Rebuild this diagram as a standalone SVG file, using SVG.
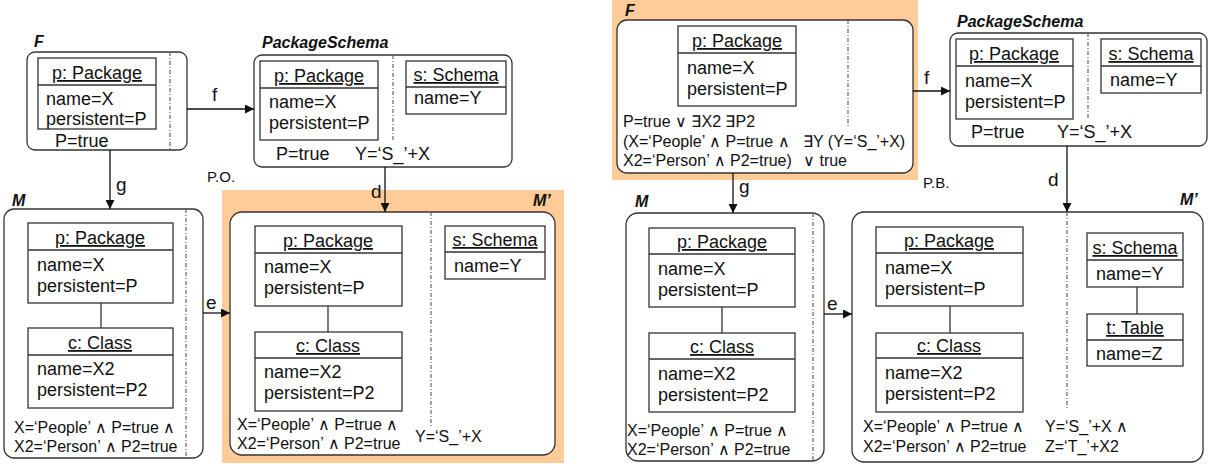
<svg xmlns="http://www.w3.org/2000/svg" width="1211" height="464" viewBox="0 0 1211 464">
  <style>
    text { font-family: "Liberation Sans", Arial, sans-serif; fill: #111; }
    .t { font-size: 18px; }
    .h { font-size: 18px; text-anchor: middle; text-decoration: underline; }
    .f { font-size: 16px; }
    .lbl { font-size: 16px; font-weight: bold; font-style: italic; }
    .el { font-size: 19px; }
    .po { font-size: 15px; }
    .graph { fill: #fff; stroke: #333; stroke-width: 1.3; }
    .obj { fill: #fff; stroke: #333; stroke-width: 1.3; }
    .sep { stroke: #333; stroke-width: 1.3; }
    .div { stroke: #666; stroke-width: 1.2; stroke-dasharray: 4 2 1 2; }
    .hl { fill: #FFCB98; }
    .conn { stroke: #111; stroke-width: 1.3; fill: none; }
  </style>
  <defs>
    <marker id="arr" viewBox="0 0 10 10" refX="10" refY="5" markerWidth="9" markerHeight="9" markerUnits="userSpaceOnUse" orient="auto">
      <path d="M0,0 L10,5 L0,10 z" fill="#111"/>
    </marker>
  </defs>

  <!-- highlighted graphs -->
  <rect class="hl" x="222" y="190" width="342" height="273"/>
  <rect class="hl" x="612" y="0" width="306" height="180"/>

  <!-- ===== left square ===== -->
  <g id="F1">
    <text class="lbl" x="34" y="47">F</text>
    <rect class="graph" x="27" y="52" width="160" height="98" rx="8"/>
    <line class="div" x1="170" y1="52" x2="170" y2="150"/>
    <rect class="obj" x="38" y="58" width="118" height="71"/>
    <line class="sep" x1="38" y1="85" x2="156" y2="85"/>
    <text class="h" x="97" y="79">p: Package</text>
    <text class="t" x="46" y="105">name=X</text>
    <text class="t" x="46" y="125">persistent=P</text>
    <text class="t" x="55" y="147">P=true</text>
  </g>

  <g id="PS1">
    <text class="lbl" x="262" y="48">PackageSchema</text>
    <rect class="graph" x="254" y="55" width="258" height="112" rx="8"/>
    <line class="div" x1="393" y1="55" x2="393" y2="140"/>
    <rect class="obj" x="260" y="61" width="118" height="79"/>
    <line class="sep" x1="260" y1="88" x2="378" y2="88"/>
    <text class="h" x="319" y="82">p: Package</text>
    <text class="t" x="269" y="108">name=X</text>
    <text class="t" x="269" y="129">persistent=P</text>
    <rect class="obj" x="406" y="61" width="100" height="53"/>
    <line class="sep" x1="406" y1="87" x2="506" y2="87"/>
    <text class="h" x="456" y="81">s: Schema</text>
    <text class="t" x="414" y="104">name=Y</text>
    <text class="t" x="276" y="160">P=true</text>
    <text class="t" x="355" y="160">Y=‘S_’+X</text>
  </g>

  <g id="M1">
    <text class="lbl" x="12" y="206">M</text>
    <rect class="graph" x="4" y="209" width="199" height="249" rx="10"/>
    <line class="div" x1="186" y1="209" x2="186" y2="458"/>
    <rect class="obj" x="28" y="223" width="145" height="80"/>
    <line class="sep" x1="28" y1="250" x2="173" y2="250"/>
    <text class="h" x="100" y="244">p: Package</text>
    <text class="t" x="37" y="271">name=X</text>
    <text class="t" x="37" y="292">persistent=P</text>
    <line class="sep" x1="101" y1="303" x2="101" y2="328"/>
    <rect class="obj" x="28" y="328" width="145" height="80"/>
    <line class="sep" x1="28" y1="355" x2="173" y2="355"/>
    <text class="h" x="100" y="349">c: Class</text>
    <text class="t" x="37" y="375">name=X2</text>
    <text class="t" x="37" y="396">persistent=P2</text>
    <text class="f" x="14" y="433">X=‘People’ ∧ P=true ∧</text>
    <text class="f" x="14" y="452">X2=‘Person’ ∧ P2=true</text>
  </g>

  <g id="MP1">
    <text class="lbl" x="533" y="206">M’</text>
    <rect class="graph" x="230" y="212" width="325" height="243" rx="12"/>
    <line class="div" x1="431" y1="212" x2="431" y2="427"/>
    <rect class="obj" x="255" y="226" width="147" height="80"/>
    <line class="sep" x1="255" y1="253" x2="402" y2="253"/>
    <text class="h" x="328" y="247">p: Package</text>
    <text class="t" x="264" y="273">name=X</text>
    <text class="t" x="264" y="294">persistent=P</text>
    <line class="sep" x1="328" y1="306" x2="328" y2="332"/>
    <rect class="obj" x="255" y="332" width="147" height="79"/>
    <line class="sep" x1="255" y1="358" x2="402" y2="358"/>
    <text class="h" x="328" y="352">c: Class</text>
    <text class="t" x="264" y="378">name=X2</text>
    <text class="t" x="264" y="399">persistent=P2</text>
    <rect class="obj" x="445" y="226" width="100" height="53"/>
    <line class="sep" x1="445" y1="252" x2="545" y2="252"/>
    <text class="h" x="495" y="246">s: Schema</text>
    <text class="t" x="454" y="272">name=Y</text>
    <text class="f" x="237" y="430">X=‘People’ ∧ P=true ∧</text>
    <text class="f" x="237" y="449">X2=‘Person’ ∧ P2=true</text>
    <text class="f" x="415" y="442">Y=‘S_’+X</text>
  </g>

  <!-- ===== right square ===== -->
  <g id="F2">
    <text class="lbl" x="625" y="16">F</text>
    <rect class="graph" x="617" y="20" width="296" height="153" rx="10"/>
    <line class="div" x1="848" y1="20" x2="848" y2="126"/>
    <rect class="obj" x="678" y="26" width="118" height="80"/>
    <line class="sep" x1="678" y1="53" x2="796" y2="53"/>
    <text class="h" x="737" y="47">p: Package</text>
    <text class="t" x="687" y="74">name=X</text>
    <text class="t" x="687" y="95">persistent=P</text>
    <text class="f" x="623" y="127">P=true ∨ ∃X2 ∃P2</text>
    <text class="f" x="623" y="147">(X=‘People’ ∧ P=true ∧</text>
    <text class="f" x="623" y="166">X2=‘Person’ ∧ P2=true)</text>
    <text class="f" x="803" y="147">∃Y (Y=‘S_’+X)</text>
    <text class="f" x="803" y="166">∨ true</text>
  </g>

  <g id="PS2">
    <text class="lbl" x="957" y="27">PackageSchema</text>
    <rect class="graph" x="950" y="33" width="257" height="113" rx="8"/>
    <line class="div" x1="1088" y1="33" x2="1088" y2="120"/>
    <rect class="obj" x="956" y="39" width="117" height="80"/>
    <line class="sep" x1="956" y1="66" x2="1073" y2="66"/>
    <text class="h" x="1014" y="60">p: Package</text>
    <text class="t" x="965" y="87">name=X</text>
    <text class="t" x="965" y="108">persistent=P</text>
    <rect class="obj" x="1101" y="39" width="100" height="54"/>
    <line class="sep" x1="1101" y1="66" x2="1201" y2="66"/>
    <text class="h" x="1151" y="60">s: Schema</text>
    <text class="t" x="1110" y="86">name=Y</text>
    <text class="t" x="971" y="138">P=true</text>
    <text class="t" x="1057" y="138">Y=‘S_’+X</text>
  </g>

  <g id="M2">
    <text class="lbl" x="635" y="207">M</text>
    <rect class="graph" x="626" y="213" width="198" height="248" rx="12"/>
    <line class="div" x1="813" y1="213" x2="813" y2="461"/>
    <rect class="obj" x="649" y="228" width="146" height="79"/>
    <line class="sep" x1="649" y1="254" x2="795" y2="254"/>
    <text class="h" x="722" y="248">p: Package</text>
    <text class="t" x="658" y="275">name=X</text>
    <text class="t" x="658" y="296">persistent=P</text>
    <line class="sep" x1="722" y1="307" x2="722" y2="333"/>
    <rect class="obj" x="649" y="333" width="146" height="79"/>
    <line class="sep" x1="649" y1="359" x2="795" y2="359"/>
    <text class="h" x="722" y="353">c: Class</text>
    <text class="t" x="658" y="380">name=X2</text>
    <text class="t" x="658" y="401">persistent=P2</text>
    <text class="f" x="627" y="436">X=‘People’ ∧ P=true ∧</text>
    <text class="f" x="627" y="455">X2=‘Person’ ∧ P2=true</text>
  </g>

  <g id="MP2">
    <text class="lbl" x="1180" y="205">M’</text>
    <rect class="graph" x="852" y="212" width="351" height="250" rx="12"/>
    <line class="div" x1="1067" y1="212" x2="1067" y2="410"/>
    <rect class="obj" x="876" y="227" width="147" height="79"/>
    <line class="sep" x1="876" y1="253" x2="1023" y2="253"/>
    <text class="h" x="949" y="247">p: Package</text>
    <text class="t" x="885" y="274">name=X</text>
    <text class="t" x="885" y="295">persistent=P</text>
    <line class="sep" x1="950" y1="306" x2="950" y2="333"/>
    <rect class="obj" x="876" y="333" width="147" height="79"/>
    <line class="sep" x1="876" y1="358" x2="1023" y2="358"/>
    <text class="h" x="949" y="352">c: Class</text>
    <text class="t" x="885" y="379">name=X2</text>
    <text class="t" x="885" y="400">persistent=P2</text>
    <rect class="obj" x="1087" y="233" width="96" height="54"/>
    <line class="sep" x1="1087" y1="260" x2="1183" y2="260"/>
    <text class="h" x="1135" y="254">s: Schema</text>
    <text class="t" x="1096" y="280">name=Y</text>
    <line class="sep" x1="1137" y1="287" x2="1137" y2="314"/>
    <rect class="obj" x="1087" y="314" width="96" height="52"/>
    <line class="sep" x1="1087" y1="340" x2="1183" y2="340"/>
    <text class="h" x="1135" y="334">t: Table</text>
    <text class="t" x="1096" y="360">name=Z</text>
    <text class="f" x="863" y="432">X=‘People’ ∧ P=true ∧</text>
    <text class="f" x="863" y="452">X2=‘Person’ ∧ P2=true</text>
    <text class="f" x="1045" y="432">Y=‘S_’+X ∧</text>
    <text class="f" x="1045" y="452">Z=‘T_’+X2</text>
  </g>

  <!-- morphisms -->
  <g id="connectors">
    <line class="conn" x1="187" y1="109" x2="254" y2="109" marker-end="url(#arr)"/>
    <line class="conn" x1="110" y1="150" x2="110" y2="209" marker-end="url(#arr)"/>
    <line class="conn" x1="385" y1="167" x2="385" y2="212" marker-end="url(#arr)"/>
    <line class="conn" x1="203" y1="313" x2="230" y2="313" marker-end="url(#arr)"/>
    <line class="conn" x1="913" y1="91" x2="950" y2="91" marker-end="url(#arr)"/>
    <line class="conn" x1="733" y1="173" x2="733" y2="213" marker-end="url(#arr)"/>
    <line class="conn" x1="1067" y1="146" x2="1067" y2="212" marker-end="url(#arr)"/>
    <line class="conn" x1="824" y1="314" x2="852" y2="314" marker-end="url(#arr)"/>
    <text class="el" x="212" y="101">f</text>
    <text class="el" x="116" y="191">g</text>
    <text class="el" x="371" y="198">d</text>
    <text class="el" x="206" y="309">e</text>
    <text class="el" x="924" y="84">f</text>
    <text class="el" x="739" y="193">g</text>
    <text class="el" x="1048" y="186">d</text>
    <text class="el" x="827" y="310">e</text>
    <text class="po" x="207" y="182">P.O.</text>
    <text class="po" x="923" y="188">P.B.</text>
  </g>
</svg>
